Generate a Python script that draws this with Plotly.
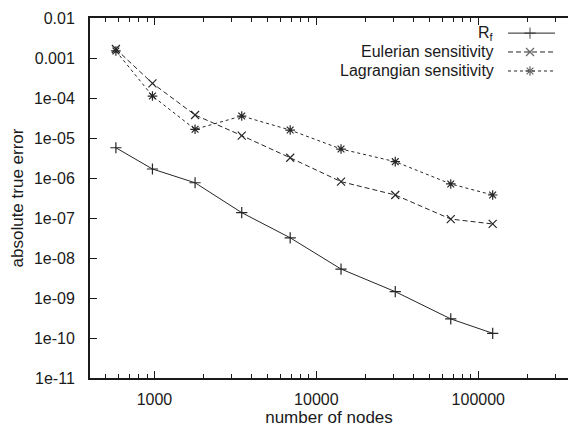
import plotly.graph_objects as go
import math

# ---- data ----
nodes = [578, 972, 1782, 3460, 6890, 14200, 30700, 67600, 122700]
rf_err = [5.7e-6, 1.68e-6, 7.6e-7, 1.36e-7, 3.2e-8, 5.3e-9, 1.44e-9, 3.0e-10, 1.31e-10]
euler_err = [1.68e-3, 2.33e-4, 3.76e-5, 1.15e-5, 3.2e-6, 8.1e-7, 3.76e-7, 9.4e-8, 7.1e-8]
lagr_err = [1.5e-3, 1.12e-4, 1.65e-5, 3.55e-5, 1.58e-5, 5.3e-6, 2.56e-6, 7.1e-7, 3.76e-7]

series_names = ["R<sub>f</sub>", "Eulerian sensitivity", "Lagrangian sensitivity"]
y_tickvals = [1e-2, 1e-3, 1e-4, 1e-5, 1e-6, 1e-7, 1e-8, 1e-9, 1e-10, 1e-11]
y_ticktext = ["0.01", "0.001", "1e-04", "1e-05", "1e-06", "1e-07", "1e-08", "1e-09", "1e-10", "1e-11"]
x_tickvals = [1000, 10000, 100000]
x_ticktext = ["1000", "10000", "100000"]

# ---- style ----
INK = "#1a1a1a"
LINE = "#262626"
FONT = "Liberation Sans, Arial, sans-serif"
TICK_SIZE = 16
KEY_SIZE = 16
TITLE_SIZE = 17
styles = [
    dict(dash="solid", symbol="cross-thin-open"),
    dict(dash="5px,3px", symbol="x-thin-open"),
    dict(dash="3px,3px", symbol="asterisk-open"),
]
values = [rf_err, euler_err, lagr_err]

fig = go.Figure()
for name, vals, st in zip(series_names, values, styles):
    fig.add_trace(go.Scatter(
        x=nodes, y=vals, mode="lines+markers", name=name, showlegend=False,
        line=dict(color=LINE, width=1, dash=st["dash"]),
        marker=dict(symbol=st["symbol"], size=8, color=LINE,
                    line=dict(color=LINE, width=1.2)),
    ))

# ---- gnuplot-like key (text on the left, sample on the right) ----
key_rows_y = [0.958, 0.9056, 0.8528]
key_line_x = [0.8745, 0.9205, 0.9728]
key_text_x = 0.849
annotations = []
for name, st, ky in zip(series_names, styles, key_rows_y):
    fig.add_trace(go.Scatter(
        x=key_line_x, y=[ky] * 3, xaxis="x2", yaxis="y2", mode="lines+markers",
        showlegend=False, hoverinfo="skip",
        line=dict(color=LINE, width=1, dash=st["dash"]),
        marker=dict(symbol=st["symbol"], size=[0, 8, 0], color=LINE,
                    line=dict(color=LINE, width=1.2)),
    ))
    annotations.append(dict(
        x=key_text_x, y=ky, xref="paper", yref="paper", text=name,
        showarrow=False, xanchor="right", yanchor="middle",
        font=dict(family=FONT, size=KEY_SIZE, color=INK),
    ))

# minor x ticks (2..9 x each decade)
minor_x = []
for dec in [100, 1000, 10000, 100000]:
    for m in range(2, 10):
        v = m * dec
        if 400 <= v <= 358000:
            minor_x.append(v)

fig.update_layout(
    width=568, height=427,
    margin=dict(l=90, r=0, t=18, b=49),
    paper_bgcolor="white", plot_bgcolor="white",
    font=dict(family=FONT, size=TICK_SIZE, color=INK),
    annotations=annotations,
    xaxis=dict(
        type="log", range=[math.log10(400), math.log10(358000)],
        tickvals=x_tickvals, ticktext=x_ticktext,
        ticks="inside", ticklen=7, tickwidth=1, tickcolor=INK,
        minor=dict(tickvals=minor_x, ticks="inside", ticklen=4,
                   tickwidth=1, tickcolor=INK, showgrid=False),
        showline=True, linecolor=INK, linewidth=2, mirror="allticks",
        showgrid=False, zeroline=False,
        ticklabelstandoff=6,
        tickfont=dict(family=FONT, size=TICK_SIZE, color=INK),
        title=dict(text="number of nodes", standoff=7,
                   font=dict(family=FONT, size=TITLE_SIZE, color=INK)),
        automargin=False,
    ),
    yaxis=dict(
        type="log", range=[-11, -2],
        tickvals=y_tickvals, ticktext=y_ticktext,
        ticks="inside", ticklen=7, tickwidth=1, tickcolor=INK,
        showline=True, linecolor=INK, linewidth=2, mirror=False,
        showgrid=False, zeroline=False,
        ticklabelstandoff=10,
        tickfont=dict(family=FONT, size=TICK_SIZE, color=INK),
        title=dict(text="absolute true error", standoff=6,
                   font=dict(family=FONT, size=TITLE_SIZE, color=INK)),
        automargin=False,
    ),
    xaxis2=dict(overlaying="x", range=[0, 1], visible=False, fixedrange=True),
    yaxis2=dict(overlaying="y", range=[0, 1], visible=False, fixedrange=True),
)

fig.write_html("out.html")
